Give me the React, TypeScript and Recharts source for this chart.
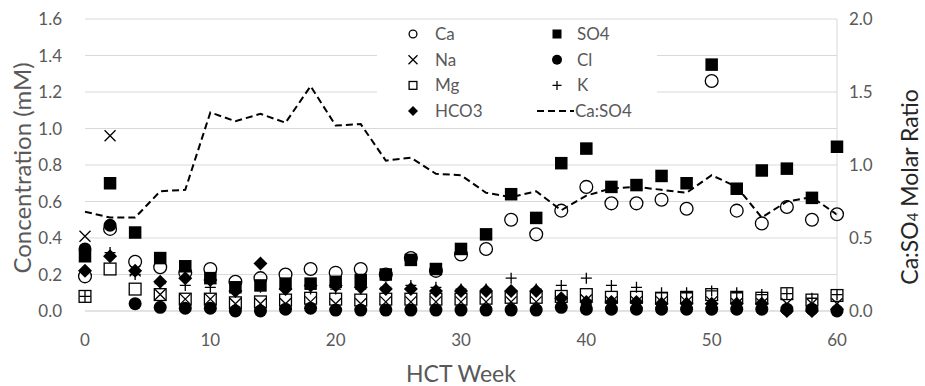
import React from "react";
import { ComposedChart, Scatter, Line, XAxis, YAxis, CartesianGrid } from "recharts";

const weeks = [0, 2, 4, 6, 8, 10, 12, 14, 16, 18, 20, 22, 24, 26, 28, 30, 32, 34, 36, 38, 40, 42, 44, 46, 48, 50, 52, 54, 56, 58, 60];
const ca = [0.19, 0.45, 0.27, 0.24, 0.21, 0.23, 0.16, 0.18, 0.2, 0.23, 0.21, 0.23, 0.2, 0.29, 0.22, 0.31, 0.34, 0.5, 0.42, 0.55, 0.68, 0.59, 0.59, 0.61, 0.56, 1.26, 0.55, 0.48, 0.57, 0.5, 0.53];
const so4 = [0.3, 0.7, 0.43, 0.29, 0.245, 0.18, 0.13, 0.14, 0.15, 0.15, 0.16, 0.17, 0.2, 0.28, 0.23, 0.34, 0.42, 0.64, 0.51, 0.81, 0.89, 0.68, 0.69, 0.74, 0.7, 1.35, 0.67, 0.77, 0.78, 0.62, 0.9];
const na = [0.41, 0.96, 0.22, 0.09, 0.065, 0.065, 0.04, 0.04, 0.04, 0.05, 0.04, 0.04, 0.05, 0.05, 0.05, 0.05, 0.05, 0.05, 0.05, 0.05, 0.06, 0.05, 0.05, 0.05, 0.05, 0.05, 0.04, 0.04, 0.04, 0.04, 0.04];
const cl = [0.34, 0.47, 0.04, 0.02, 0.015, 0.015, 0.0, 0.0, 0.01, 0.015, 0.005, 0.005, 0.005, 0.005, 0.005, 0.005, 0.005, 0.005, 0.005, 0.02, 0.01, 0.01, 0.01, 0.01, 0.01, 0.01, 0.01, 0.01, 0.01, 0.01, 0.0];
const mg = [0.08, 0.23, 0.12, 0.09, 0.065, 0.065, 0.045, 0.05, 0.06, 0.07, 0.065, 0.06, 0.065, 0.065, 0.065, 0.065, 0.07, 0.075, 0.075, 0.08, 0.09, 0.075, 0.075, 0.07, 0.075, 0.09, 0.075, 0.07, 0.095, 0.06, 0.085];
const k = [0.08, 0.32, 0.2, 0.15, 0.14, 0.13, 0.11, 0.13, 0.12, 0.12, 0.12, 0.12, 0.13, 0.14, 0.13, 0.12, 0.12, 0.18, 0.12, 0.14, 0.18, 0.14, 0.13, 0.1, 0.1, 0.11, 0.1, 0.09, 0.095, 0.07, 0.09];
const hco3 = [0.22, 0.3, 0.22, 0.16, 0.18, 0.17, 0.11, 0.26, 0.12, 0.14, 0.14, 0.13, 0.12, 0.12, 0.11, 0.11, 0.11, 0.11, 0.11, 0.07, 0.05, 0.05, 0.05, 0.04, 0.04, 0.04, 0.04, 0.04, 0.0, 0.0, 0.01];
const caSo4Ratio = [0.68, 0.64, 0.64, 0.82, 0.83, 1.36, 1.3, 1.35, 1.29, 1.54, 1.27, 1.28, 1.03, 1.05, 0.94, 0.93, 0.81, 0.78, 0.82, 0.69, 0.79, 0.84, 0.85, 0.83, 0.81, 0.93, 0.85, 0.64, 0.75, 0.78, 0.66];

const xTicks = [0, 10, 20, 30, 40, 50, 60];
const leftTicks = [0, 0.2, 0.4, 0.6, 0.8, 1.0, 1.2, 1.4, 1.6];
const rightTicks = [0, 0.5, 1.0, 1.5, 2.0];

const data = weeks.map((week, i) => ({
  week,
  Ca: ca[i],
  SO4: so4[i],
  Na: na[i],
  Cl: cl[i],
  Mg: mg[i],
  K: k[i],
  HCO3: hco3[i],
  ratio: caSo4Ratio[i],
}));

const FONT = "Lato, 'Open Sans', sans-serif";
const GRAY = "#595959";
const GRID = "#d9d9d9";

type Kind = "circleOpen" | "circleFilled" | "squareOpen" | "squareFilled" | "x" | "plus" | "diamond";

function Marker({ kind, cx, cy, s }: { kind: Kind; cx: number; cy: number; s: number }) {
  const h = s / 2;
  switch (kind) {
    case "circleOpen":
      return <circle cx={cx} cy={cy} r={h - 0.6} fill="none" stroke="#000" strokeWidth={1.3} />;
    case "circleFilled":
      return <circle cx={cx} cy={cy} r={h} fill="#000" />;
    case "squareOpen":
      return <rect x={cx - h + 0.6} y={cy - h + 0.6} width={s - 1.2} height={s - 1.2} fill="none" stroke="#000" strokeWidth={1.3} />;
    case "squareFilled":
      return <rect x={cx - h} y={cy - h} width={s} height={s} fill="#000" />;
    case "x":
      return (
        <path d={`M${cx - h},${cy - h}L${cx + h},${cy + h}M${cx + h},${cy - h}L${cx - h},${cy + h}`} stroke="#000" strokeWidth={1.3} fill="none" />
      );
    case "plus":
      return <path d={`M${cx - h},${cy}L${cx + h},${cy}M${cx},${cy - h}L${cx},${cy + h}`} stroke="#000" strokeWidth={1.3} fill="none" />;
    case "diamond":
      return <polygon points={`${cx},${cy - h} ${cx + h},${cy} ${cx},${cy + h} ${cx - h},${cy}`} fill="#000" />;
  }
  return null;
}

const shapeOf = (kind: Kind, s: number) => (p: any) => {
  if (p.cx == null || p.cy == null) return <g />;
  return <Marker kind={kind} cx={p.cx} cy={p.cy} s={s} />;
};

const legendItems: { label: string; kind: Kind | "dash"; col: number; row: number }[] = [
  { label: "Ca", kind: "circleOpen", col: 0, row: 0 },
  { label: "Na", kind: "x", col: 0, row: 1 },
  { label: "Mg", kind: "squareOpen", col: 0, row: 2 },
  { label: "HCO3", kind: "diamond", col: 0, row: 3 },
  { label: "SO4", kind: "squareFilled", col: 1, row: 0 },
  { label: "Cl", kind: "circleFilled", col: 1, row: 1 },
  { label: "K", kind: "plus", col: 1, row: 2 },
  { label: "Ca:SO4", kind: "dash", col: 1, row: 3 },
];

function LegendBox() {
  return (
    <svg width={280} height={104} style={{ position: "absolute", left: 377, top: 22, background: "#fff", display: "block" }}>
      {legendItems.map((it) => {
        const iconX = it.col === 0 ? 36 : 180;
        const textX = it.col === 0 ? 58 : 200;
        const y = 12 + it.row * 25.7;
        return (
          <g key={it.label}>
            {it.kind === "dash" ? (
              <line x1={160} x2={197} y1={y} y2={y} stroke="#000" strokeWidth={2} strokeDasharray="7 4" />
            ) : (
              <Marker kind={it.kind} cx={iconX} cy={y} s={it.kind === "diamond" || it.kind === "circleFilled" ? 10 : 9} />
            )}
            <text x={it.kind === "dash" ? 198 : textX} y={y} dy="0.35em" fontSize={17} fill={GRAY} fontFamily={FONT}>
              {it.label}
            </text>
          </g>
        );
      })}
    </svg>
  );
}

const tickStyle = { fontSize: 17, fill: GRAY, fontFamily: FONT };

export default function App() {
  return (
    <div style={{ position: "absolute", left: 0, top: 0, width: 925, height: 386, background: "#fff" }}>
      <ComposedChart width={925} height={386} data={data} margin={{ top: 19, right: 0, bottom: 0, left: 0 }}>
        <CartesianGrid yAxisId="left" vertical={false} stroke={GRID} strokeWidth={1} />
        <XAxis
          dataKey="week"
          type="number"
          domain={[0, 60]}
          ticks={xTicks}
          height={75}
          tickLine={false}
          tickSize={0}
          tickMargin={23}
          axisLine={{ stroke: GRID }}
          tick={tickStyle}
          label={{
            content: (props: any) => {
              const vb = props.viewBox;
              return (
                <text x={vb.x + vb.width / 2} y={vb.y + vb.height - 4} textAnchor="middle" fontSize={23} fill={GRAY} fontFamily={FONT}>
                  HCT Week
                </text>
              );
            },
          }}
        />
        <YAxis
          yAxisId="left"
          orientation="left"
          width={85}
          domain={[0, 1.6]}
          ticks={leftTicks}
          tickFormatter={(v: number) => v.toFixed(1)}
          tickLine={false}
          tickSize={0}
          tickMargin={23}
          axisLine={false}
          tick={tickStyle}
          label={{
            content: (props: any) => {
              const vb = props.viewBox;
              const cy = vb.y + vb.height / 2 + 3;
              return (
                <text x={21} y={cy} transform={`rotate(-90 21 ${cy})`} textAnchor="middle" dominantBaseline="central" fontSize={24} fill={GRAY} fontFamily={FONT}>
                  Concentration (mM)
                </text>
              );
            },
          }}
        />
        <YAxis
          yAxisId="right"
          orientation="right"
          width={88}
          domain={[0, 2]}
          ticks={rightTicks}
          tickFormatter={(v: number) => v.toFixed(1)}
          tickLine={false}
          tickSize={0}
          tickMargin={12}
          axisLine={{ stroke: GRID }}
          tick={tickStyle}
          label={{
            content: (props: any) => {
              const vb = props.viewBox;
              const cy = vb.y + vb.height / 2 + 22;
              const x = vb.x + 72;
              return (
                <text x={x} y={cy} transform={`rotate(-90 ${x} ${cy})`} textAnchor="middle" dominantBaseline="central" fontSize={23} fill="#262626" fontFamily={FONT}>
                  <tspan>Ca:SO</tspan>
                  <tspan fontSize={15} dy={3}>4</tspan>
                  <tspan dy={-3}> Molar Ratio</tspan>
                </text>
              );
            },
          }}
        />
        <Scatter yAxisId="left" dataKey="Ca" name="Ca" isAnimationActive={false} shape={shapeOf("circleOpen", 14)} />
        <Scatter yAxisId="left" dataKey="SO4" name="SO4" isAnimationActive={false} shape={shapeOf("squareFilled", 12.5)} />
        <Scatter yAxisId="left" dataKey="Na" name="Na" isAnimationActive={false} shape={shapeOf("x", 11)} />
        <Scatter yAxisId="left" dataKey="Cl" name="Cl" isAnimationActive={false} shape={shapeOf("circleFilled", 13)} />
        <Scatter yAxisId="left" dataKey="Mg" name="Mg" isAnimationActive={false} shape={shapeOf("squareOpen", 13)} />
        <Scatter yAxisId="left" dataKey="K" name="K" isAnimationActive={false} shape={shapeOf("plus", 11)} />
        <Scatter yAxisId="left" dataKey="HCO3" name="HCO3" isAnimationActive={false} shape={shapeOf("diamond", 14)} />
        <Line
          yAxisId="right"
          dataKey="ratio"
          name="Ca:SO4"
          type="linear"
          stroke="#000"
          strokeWidth={2}
          strokeDasharray="7 4"
          dot={false}
          activeDot={false}
          isAnimationActive={false}
        />
      </ComposedChart>
      <LegendBox />
    </div>
  );
}
